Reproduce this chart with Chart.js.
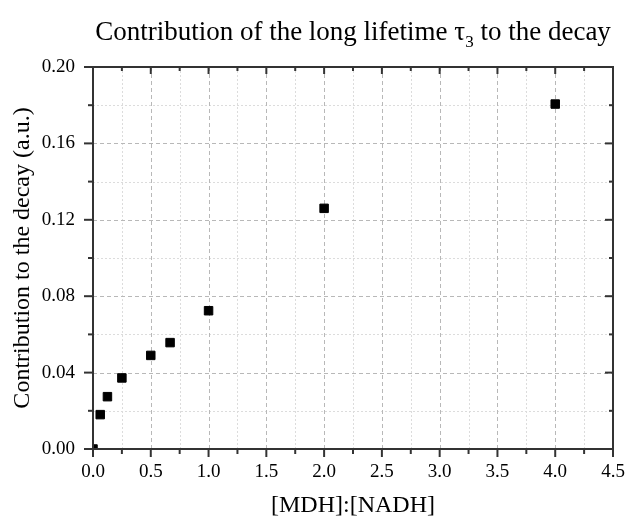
<!DOCTYPE html>
<html>
<head>
<meta charset="utf-8">
<script src="https://cdn.jsdelivr.net/npm/chart.js@4"></script>
<style>
  html, body { margin: 0; padding: 0; background: #fff; }
  #wrap { width: 625px; height: 521px; }
</style>
</head>
<body>
<div id="wrap"><canvas id="chart"></canvas></div>
<script>
// data
const ratio = [0, 0.0625, 0.125, 0.25, 0.5, 0.667, 1, 2, 4];
const contribution = [0, 0.018, 0.0274, 0.0372, 0.049, 0.0557, 0.0724, 0.126, 0.1806];
const xTickValues = [0, 0.5, 1, 1.5, 2, 2.5, 3, 3.5, 4, 4.5];
const yTickValues = [0, 0.04, 0.08, 0.12, 0.16, 0.20];

const FONT = "'Liberation Serif', 'Times New Roman', serif";

function minorsOf(majors) {
    const out = [];
    for (let i = 0; i < majors.length - 1; i++) out.push((majors[i] + majors[i + 1]) / 2);
    return out;
}

// grid, frame and ticks (Origin-like: left/bottom ticks out, top/right ticks in)
const framePlugin = {
    id: 'frame',
    beforeDatasetsDraw(chart) {
        const { ctx, chartArea: a, scales: { x, y } } = chart;
        ctx.save();
        // minor grid
        ctx.strokeStyle = '#dcdcdc';
        ctx.lineWidth = 1;
        ctx.setLineDash([2, 2]);
        minorsOf(xTickValues).forEach(v => {
            const px = Math.round(x.getPixelForValue(v)) + 0.5;
            ctx.beginPath(); ctx.moveTo(px, a.top); ctx.lineTo(px, a.bottom); ctx.stroke();
        });
        minorsOf(yTickValues).forEach(v => {
            const py = Math.round(y.getPixelForValue(v)) + 0.5;
            ctx.beginPath(); ctx.moveTo(a.left, py); ctx.lineTo(a.right, py); ctx.stroke();
        });
        // major grid
        ctx.strokeStyle = '#b8b8b8';
        ctx.setLineDash([4, 3]);
        xTickValues.forEach(v => {
            const px = Math.round(x.getPixelForValue(v)) + 0.5;
            ctx.beginPath(); ctx.moveTo(px, a.top); ctx.lineTo(px, a.bottom); ctx.stroke();
        });
        yTickValues.forEach(v => {
            const py = Math.round(y.getPixelForValue(v)) + 0.5;
            ctx.beginPath(); ctx.moveTo(a.left, py); ctx.lineTo(a.right, py); ctx.stroke();
        });
        ctx.restore();
    },
    afterDatasetsDraw(chart) {
        const { ctx, chartArea: a, scales: { x, y } } = chart;
        ctx.save();
        ctx.strokeStyle = '#333';
        ctx.lineWidth = 2;
        ctx.setLineDash([]);
        ctx.strokeRect(a.left, a.top, a.right - a.left, a.bottom - a.top);

        const tick = (x1, y1, x2, y2) => { ctx.beginPath(); ctx.moveTo(x1, y1); ctx.lineTo(x2, y2); ctx.stroke(); };
        xTickValues.forEach(v => {
            const px = x.getPixelForValue(v);
            tick(px, a.bottom, px, a.bottom + 8);
            tick(px, a.top, px, a.top + 7);
        });
        minorsOf(xTickValues).forEach(v => {
            const px = x.getPixelForValue(v);
            tick(px, a.bottom, px, a.bottom + 5);
            tick(px, a.top, px, a.top + 4);
        });
        yTickValues.forEach(v => {
            const py = y.getPixelForValue(v);
            tick(a.left, py, a.left - 9, py);
            tick(a.right, py, a.right - 8, py);
        });
        minorsOf(yTickValues).forEach(v => {
            const py = y.getPixelForValue(v);
            tick(a.left, py, a.left - 5, py);
            tick(a.right, py, a.right - 4, py);
        });
        ctx.restore();
    }
};

// title with subscript, centred over the plot area
const titlePlugin = {
    id: 'subTitle',
    afterDraw(chart) {
        const { ctx, chartArea: a } = chart;
        const main = '27px ' + FONT, sub = '17px ' + FONT;
        const p1 = 'Contribution of the long lifetime \u03C4', p2 = '3', p3 = ' to the decay';
        ctx.save();
        ctx.fillStyle = '#000';
        ctx.textBaseline = 'alphabetic';
        ctx.font = main;
        const w1 = ctx.measureText(p1).width, w3 = ctx.measureText(p3).width;
        ctx.font = sub;
        const w2 = ctx.measureText(p2).width;
        let cx = (a.left + a.right) / 2 - (w1 + w2 + w3) / 2;
        const base = 40;
        ctx.font = main; ctx.fillText(p1, cx, base); cx += w1;
        ctx.font = sub; ctx.fillText(p2, cx, base + 7); cx += w2;
        ctx.font = main; ctx.fillText(p3, cx, base);
        ctx.restore();
    }
};

new Chart(document.getElementById('chart'), {
    type: 'scatter',
    data: {
        datasets: [{
            data: ratio.map((r, i) => ({ x: r, y: contribution[i] })),
            pointStyle: 'rect',
            pointRadius: 6,
            pointHoverRadius: 6,
            backgroundColor: '#000',
            borderColor: '#000',
            borderWidth: 1
        }]
    },
    options: {
        responsive: true,
        maintainAspectRatio: false,
        animation: false,
        layout: { padding: { top: 67, right: 12, left: 0, bottom: 0 } },
        plugins: { legend: { display: false }, tooltip: { enabled: false }, title: { display: false } },
        scales: {
            x: {
                type: 'linear', min: 0, max: 4.5,
                afterBuildTicks: s => { s.ticks = xTickValues.map(v => ({ value: v })); },
                afterFit: s => { s.height = 72; s.paddingLeft = 0; s.paddingRight = 0; },
                grid: { display: false, drawTicks: false },
                border: { display: false },
                ticks: { padding: 12, color: '#000', font: { family: FONT, size: 19 }, callback: v => v.toFixed(1), maxRotation: 0 },
                title: { display: true, text: '[MDH]:[NADH]', color: '#000', font: { family: FONT, size: 24 }, padding: { top: 4, bottom: 1 } }
            },
            y: {
                type: 'linear', min: 0, max: 0.2,
                afterBuildTicks: s => { s.ticks = yTickValues.map(v => ({ value: v })); },
                afterFit: s => { s.width = 93; s.paddingTop = 0; s.paddingBottom = 0; },
                grid: { display: false, drawTicks: false },
                border: { display: false },
                ticks: { padding: 18, color: '#000', font: { family: FONT, size: 19 }, callback: v => v.toFixed(2) },
                title: { display: true, text: 'Contribution to the decay (a.u.)', color: '#000', font: { family: FONT, size: 24 }, padding: { top: 8, bottom: 0 } }
            }
        }
    },
    plugins: [framePlugin, titlePlugin]
});
</script>
</body>
</html>
